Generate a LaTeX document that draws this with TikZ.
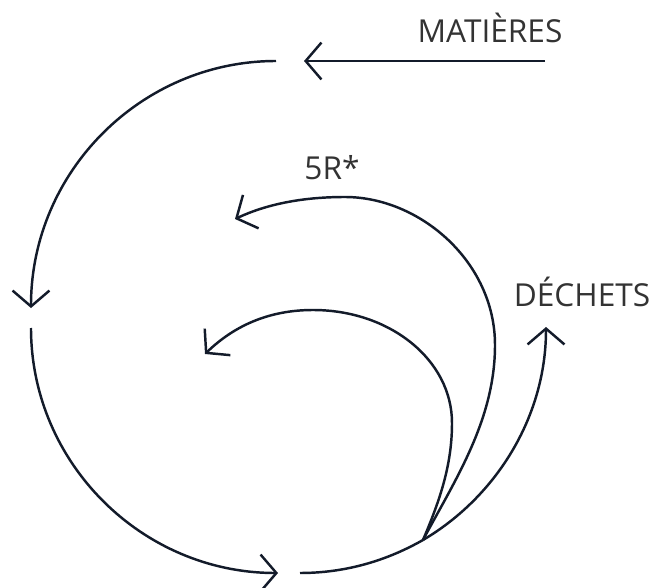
\documentclass[tikz,border=0pt]{standalone}
\usepackage{fontspec}
\setmainfont{Open Sans}
\usetikzlibrary{arrows.meta}
\definecolor{navy}{RGB}{19,27,42}
\definecolor{txtgray}{RGB}{51,51,51}

\begin{document}
\begin{tikzpicture}[x=0.02cm, y=-0.02cm, font=\fontsize{18}{20}\selectfont,
tag/.style={text=txtgray, anchor=base, inner sep=0pt},
flow/.style={-{Straight Barb[length=9pt, width=21pt]}, line width=1.4pt, navy},
plain/.style={line width=1.4pt, navy}]
\useasboundingbox (0,0) rectangle (670,588);
% points of the cycle
\coordinate (matin) at (545,61);
\coordinate (mattip) at (304,61);
\coordinate (topstart) at (276,61);
\coordinate (lefttip) at (31,308);
\coordinate (leftstart) at (31,328);
\coordinate (bottip) at (278,573);
\coordinate (botstart) at (300,573);
\coordinate (jn) at (423,540);
\coordinate (dechtip) at (546,327);
\coordinate (rtip) at (235,219);
\coordinate (intip) at (205,354);
% labels
\node[tag] (mat) at (490,43) {MATIÈRES};
\node[tag] (rr) at (332,180) {5R*};
\node[tag] (dech) at (582,306) {DÉCHETS};
% arrows
\draw[flow] (matin) -- (mattip);
\draw[flow] (topstart) .. controls (141,61) and (31,172) .. (lefttip);
\draw[flow] (leftstart) .. controls (31,463) and (142,573) .. (bottip);
\draw[plain] (botstart) .. controls (345,573) and (386,561) .. (jn);
\draw[flow] (jn) .. controls (496,497) and (546,417) .. (dechtip);
\draw[flow] (jn) .. controls (455,480) and (495,420) .. (495,345)
  .. controls (495,262) and (420,197) .. (345,197)
  .. controls (300,197) and (265,205) .. (rtip);
\draw[flow] (jn) .. controls (440,500) and (452,465) .. (452,423)
  .. controls (452,360) and (390,310) .. (313,310)
  .. controls (270,310) and (235,325) .. (intip);
\end{tikzpicture}
\end{document}
